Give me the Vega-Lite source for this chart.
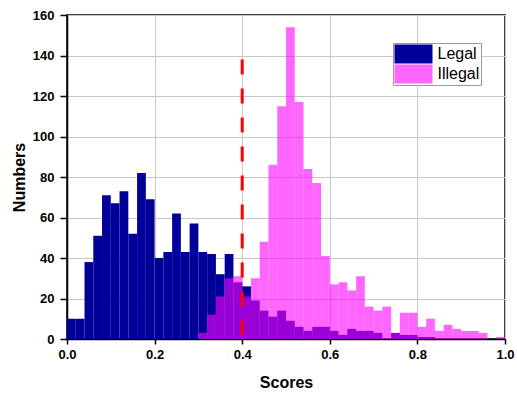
{
  "$schema": "https://vega.github.io/schema/vega-lite/v6.json",
  "width": 438,
  "height": 324,
  "autosize": "none",
  "padding": {"left": 67, "top": 15, "right": 12, "bottom": 55},
  "background": "white",
  "config": {
    "font": "Liberation Sans",
    "view": {"stroke": "black", "strokeWidth": 1.5},
    "legend": {
      "orient": "none",
      "legendX": 326,
      "legendY": 28,
      "symbolType": "M-1,-1H3V1H-1Z",
      "symbolSize": 361,
      "symbolStrokeWidth": 0,
      "labelOffset": 24,
      "labelFont": "Liberation Sans",
      "labelFontSize": 16,
      "labelColor": "black",
      "strokeColor": "#999999",
      "fillColor": "white",
      "padding": 1.5,
      "rowPadding": 1
    }
  },
  "layer": [
    {
      "data": {
        "values": [
          {"s": "Legal", "lo": 0.00, "hi": 0.02, "n": 10},
          {"s": "Legal", "lo": 0.02, "hi": 0.04, "n": 10},
          {"s": "Legal", "lo": 0.04, "hi": 0.06, "n": 38},
          {"s": "Legal", "lo": 0.06, "hi": 0.08, "n": 51},
          {"s": "Legal", "lo": 0.08, "hi": 0.10, "n": 71},
          {"s": "Legal", "lo": 0.10, "hi": 0.12, "n": 67},
          {"s": "Legal", "lo": 0.12, "hi": 0.14, "n": 73},
          {"s": "Legal", "lo": 0.14, "hi": 0.16, "n": 52},
          {"s": "Legal", "lo": 0.16, "hi": 0.18, "n": 82},
          {"s": "Legal", "lo": 0.18, "hi": 0.20, "n": 69},
          {"s": "Legal", "lo": 0.20, "hi": 0.22, "n": 40},
          {"s": "Legal", "lo": 0.22, "hi": 0.24, "n": 43},
          {"s": "Legal", "lo": 0.24, "hi": 0.26, "n": 62},
          {"s": "Legal", "lo": 0.26, "hi": 0.28, "n": 43},
          {"s": "Legal", "lo": 0.28, "hi": 0.30, "n": 57},
          {"s": "Legal", "lo": 0.30, "hi": 0.32, "n": 43},
          {"s": "Legal", "lo": 0.32, "hi": 0.34, "n": 42},
          {"s": "Legal", "lo": 0.34, "hi": 0.36, "n": 32},
          {"s": "Legal", "lo": 0.36, "hi": 0.38, "n": 42},
          {"s": "Legal", "lo": 0.38, "hi": 0.40, "n": 28},
          {"s": "Legal", "lo": 0.40, "hi": 0.42, "n": 26},
          {"s": "Legal", "lo": 0.42, "hi": 0.44, "n": 19},
          {"s": "Legal", "lo": 0.44, "hi": 0.46, "n": 14},
          {"s": "Legal", "lo": 0.46, "hi": 0.48, "n": 11},
          {"s": "Legal", "lo": 0.48, "hi": 0.50, "n": 14},
          {"s": "Legal", "lo": 0.50, "hi": 0.52, "n": 9},
          {"s": "Legal", "lo": 0.52, "hi": 0.54, "n": 6},
          {"s": "Legal", "lo": 0.54, "hi": 0.56, "n": 4},
          {"s": "Legal", "lo": 0.56, "hi": 0.58, "n": 6},
          {"s": "Legal", "lo": 0.58, "hi": 0.60, "n": 6},
          {"s": "Legal", "lo": 0.60, "hi": 0.62, "n": 4},
          {"s": "Legal", "lo": 0.62, "hi": 0.64, "n": 2},
          {"s": "Legal", "lo": 0.64, "hi": 0.66, "n": 5},
          {"s": "Legal", "lo": 0.66, "hi": 0.68, "n": 4},
          {"s": "Legal", "lo": 0.68, "hi": 0.70, "n": 4},
          {"s": "Legal", "lo": 0.70, "hi": 0.72, "n": 3},
          {"s": "Legal", "lo": 0.74, "hi": 0.76, "n": 3},
          {"s": "Legal", "lo": 0.76, "hi": 0.78, "n": 2},
          {"s": "Legal", "lo": 0.78, "hi": 0.80, "n": 2},
          {"s": "Legal", "lo": 0.80, "hi": 0.82, "n": 1},
          {"s": "Legal", "lo": 0.82, "hi": 0.84, "n": 1},
          {"s": "Illegal", "lo": 0.30, "hi": 0.32, "n": 3},
          {"s": "Illegal", "lo": 0.32, "hi": 0.34, "n": 12},
          {"s": "Illegal", "lo": 0.34, "hi": 0.36, "n": 21},
          {"s": "Illegal", "lo": 0.36, "hi": 0.38, "n": 30},
          {"s": "Illegal", "lo": 0.38, "hi": 0.40, "n": 31},
          {"s": "Illegal", "lo": 0.40, "hi": 0.42, "n": 21},
          {"s": "Illegal", "lo": 0.42, "hi": 0.44, "n": 30},
          {"s": "Illegal", "lo": 0.44, "hi": 0.46, "n": 48},
          {"s": "Illegal", "lo": 0.46, "hi": 0.48, "n": 86},
          {"s": "Illegal", "lo": 0.48, "hi": 0.50, "n": 115},
          {"s": "Illegal", "lo": 0.50, "hi": 0.52, "n": 154},
          {"s": "Illegal", "lo": 0.52, "hi": 0.54, "n": 117},
          {"s": "Illegal", "lo": 0.54, "hi": 0.56, "n": 84},
          {"s": "Illegal", "lo": 0.56, "hi": 0.58, "n": 77},
          {"s": "Illegal", "lo": 0.58, "hi": 0.60, "n": 41},
          {"s": "Illegal", "lo": 0.60, "hi": 0.62, "n": 27},
          {"s": "Illegal", "lo": 0.62, "hi": 0.64, "n": 28},
          {"s": "Illegal", "lo": 0.64, "hi": 0.66, "n": 24},
          {"s": "Illegal", "lo": 0.66, "hi": 0.68, "n": 31},
          {"s": "Illegal", "lo": 0.68, "hi": 0.70, "n": 16},
          {"s": "Illegal", "lo": 0.70, "hi": 0.72, "n": 14},
          {"s": "Illegal", "lo": 0.72, "hi": 0.74, "n": 16},
          {"s": "Illegal", "lo": 0.74, "hi": 0.76, "n": 3},
          {"s": "Illegal", "lo": 0.76, "hi": 0.78, "n": 13},
          {"s": "Illegal", "lo": 0.78, "hi": 0.80, "n": 13},
          {"s": "Illegal", "lo": 0.80, "hi": 0.82, "n": 6},
          {"s": "Illegal", "lo": 0.82, "hi": 0.84, "n": 10},
          {"s": "Illegal", "lo": 0.84, "hi": 0.86, "n": 4},
          {"s": "Illegal", "lo": 0.86, "hi": 0.88, "n": 7},
          {"s": "Illegal", "lo": 0.88, "hi": 0.90, "n": 5},
          {"s": "Illegal", "lo": 0.90, "hi": 0.92, "n": 4},
          {"s": "Illegal", "lo": 0.92, "hi": 0.94, "n": 4},
          {"s": "Illegal", "lo": 0.94, "hi": 0.96, "n": 3},
          {"s": "Illegal", "lo": 0.98, "hi": 1.00, "n": 1}
        ]
      },
      "mark": {"type": "rect"},
      "encoding": {
        "x": {
          "field": "lo",
          "type": "quantitative",
          "scale": {"domain": [0, 1], "nice": false, "zero": false},
          "axis": {
            "values": [0, 0.2, 0.4, 0.6, 0.8, 1.0],
            "format": ".1f",
            "title": "Scores",
            "titleFontSize": 16,
            "titleFontWeight": "bold",
            "titleColor": "black",
            "titlePadding": 13,
            "labelFontSize": 13,
            "labelFontWeight": "bold",
            "labelColor": "black",
            "labelPadding": 4,
            "labelFlush": false,
            "domainColor": "black",
            "domainWidth": 1.5,
            "tickColor": "black",
            "tickWidth": 1.5,
            "tickSize": 5,
            "gridColor": "#c8c8c8",
            "gridWidth": 1
          }
        },
        "x2": {"field": "hi"},
        "y": {
          "field": "n",
          "type": "quantitative",
          "scale": {"domain": [0, 160], "nice": false},
          "axis": {
            "values": [0, 10, 20, 30, 40, 50, 60, 70, 80, 90, 100, 110, 120, 130, 140, 150, 160],
            "labelExpr": "datum.value % 20 === 0 ? datum.label : ''",
            "title": "Numbers",
            "titleFontSize": 16,
            "titleFontWeight": "bold",
            "titleColor": "black",
            "titlePadding": 5,
            "labelFontSize": 13,
            "labelFontWeight": "bold",
            "labelColor": "black",
            "labelPadding": 6,
            "domainColor": "black",
            "domainWidth": 1.5,
            "tickColor": "black",
            "tickWidth": 1.5,
            "tickSize": {"condition": {"test": "datum.value % 20 === 0", "value": 7}, "value": 4},
            "gridColor": {"condition": {"test": "datum.value % 20 === 0", "value": "#c8c8c8"}, "value": "#d6d6d6"},
            "gridDash": {"condition": {"test": "datum.value % 20 === 0", "value": []}, "value": [2, 2]},
            "gridWidth": 1
          }
        },
        "y2": {"datum": 0},
        "color": {
          "field": "s",
          "type": "nominal",
          "scale": {"domain": ["Legal", "Illegal"], "range": ["#000099", "#ff00ff"]},
          "legend": {"title": null}
        },
        "opacity": {
          "field": "s",
          "type": "nominal",
          "scale": {"domain": ["Legal", "Illegal"], "range": [1, 0.6]},
          "legend": {"title": null}
        }
      }
    },
    {
      "data": {"values": [{"x": 0.4, "top": 138}]},
      "mark": {"type": "rule", "color": "#ff0000", "strokeWidth": 3, "strokeDash": [15, 14]},
      "encoding": {
        "x": {"field": "x", "type": "quantitative"},
        "y": {"field": "top", "type": "quantitative"},
        "y2": {"datum": 0}
      }
    }
  ]
}
